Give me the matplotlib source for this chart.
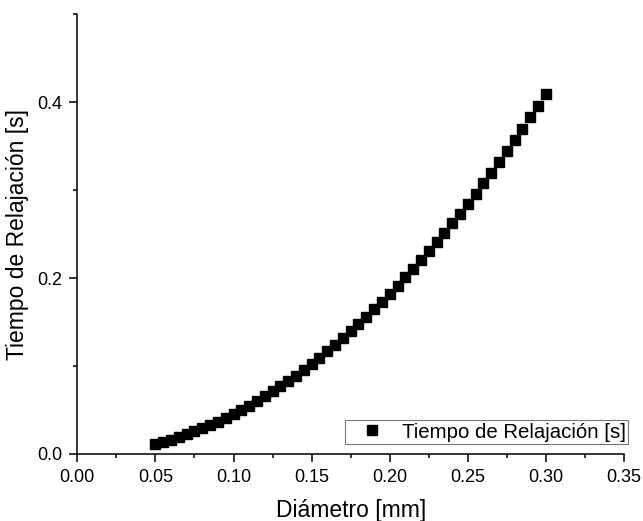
import matplotlib
matplotlib.use("Agg")
import matplotlib.pyplot as plt
from matplotlib.ticker import MultipleLocator, FormatStrFormatter

# datos
diametro = [0.050, 0.055, 0.060, 0.065, 0.070, 0.075, 0.080, 0.085, 0.090, 0.095,
            0.100, 0.105, 0.110, 0.115, 0.120, 0.125, 0.130, 0.135, 0.140, 0.145,
            0.150, 0.155, 0.160, 0.165, 0.170, 0.175, 0.180, 0.185, 0.190, 0.195,
            0.200, 0.205, 0.210, 0.215, 0.220, 0.225, 0.230, 0.235, 0.240, 0.245,
            0.250, 0.255, 0.260, 0.265, 0.270, 0.275, 0.280, 0.285, 0.290, 0.295,
            0.300]
tiempo = [0.0114, 0.0138, 0.0164, 0.0192, 0.0223, 0.0256, 0.0291, 0.0329, 0.0369, 0.0411,
          0.0455, 0.0502, 0.0551, 0.0602, 0.0655, 0.0711, 0.0769, 0.0829, 0.0892, 0.0957,
          0.1024, 0.1093, 0.1165, 0.1239, 0.1315, 0.1393, 0.1474, 0.1557, 0.1643, 0.1730,
          0.1820, 0.1912, 0.2007, 0.2103, 0.2202, 0.2303, 0.2407, 0.2513, 0.2621, 0.2731,
          0.2844, 0.2959, 0.3076, 0.3195, 0.3317, 0.3441, 0.3567, 0.3696, 0.3827, 0.3960,
          0.4095]
serie = "Tiempo de Relajación [s]"
xlabel = "Diámetro [mm]"
ylabel = "Tiempo de Relajación [s]"

plt.rcParams["font.family"] = ["Liberation Sans", "DejaVu Sans"]

fig = plt.figure(figsize=(6.43, 5.21), dpi=100)
ax = fig.add_axes([0.1202, 0.1286, 0.8503, 0.8445])

ax.plot(diametro, tiempo, linestyle="none", marker="s", markersize=6.8,
        color="black", label=serie)

ax.set_xlim(0.0, 0.35)
ax.set_ylim(0.0, 0.5)
ax.xaxis.set_major_locator(MultipleLocator(0.05))
ax.xaxis.set_minor_locator(MultipleLocator(0.025))
ax.yaxis.set_major_locator(MultipleLocator(0.2))
ax.yaxis.set_minor_locator(MultipleLocator(0.1))
ax.xaxis.set_major_formatter(FormatStrFormatter("%.2f"))
ax.yaxis.set_major_formatter(FormatStrFormatter("%.1f"))

for s in ["top", "right"]:
    ax.spines[s].set_visible(False)
for s in ["left", "bottom"]:
    ax.spines[s].set_linewidth(1.1)

ax.tick_params(which="major", direction="out", length=6, width=1.1,
               labelsize=13, pad=5)
ax.tick_params(which="minor", direction="out", length=3, width=1.1)

ax.set_xlabel(xlabel, fontsize=16.5, labelpad=9)
ax.set_ylabel(ylabel, fontsize=16.5, labelpad=6)

leg = ax.legend(loc="lower right", bbox_to_anchor=(628 / 643, 77 / 521),
                bbox_transform=fig.transFigure, borderaxespad=0,
                fontsize=14.7, frameon=True, fancybox=False, handlelength=2.4,
                handletextpad=0.25, borderpad=0.12)
leg.get_frame().set_edgecolor("#555555")
leg.get_frame().set_linewidth(0.8)

fig.savefig("out.png", dpi=100)
